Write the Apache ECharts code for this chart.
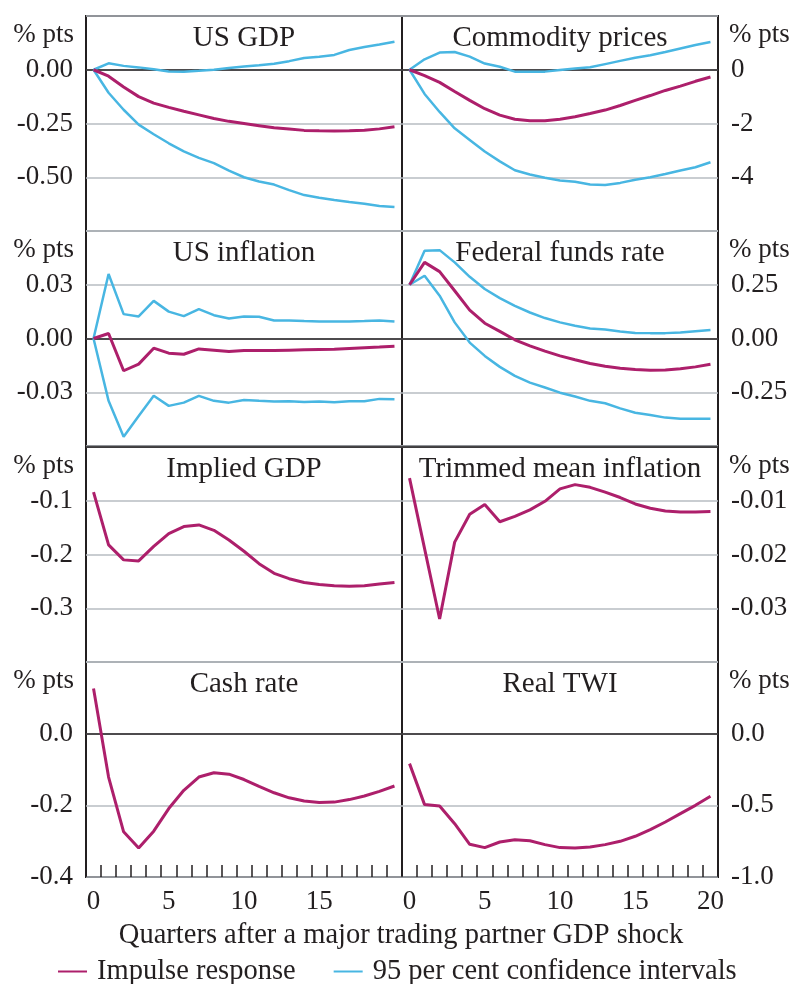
<!DOCTYPE html>
<html>
<head>
<meta charset="utf-8">
<script src="https://cdn.jsdelivr.net/npm/echarts@6/dist/echarts.min.js"></script>
<style>
  html, body { margin: 0; padding: 0; background: #fff; }
</style>
</head>
<body>
<div id="chart" style="width: 796px; height: 984px;"></div>
<script>
  // quarters after the shock
  const quarters = ['0', '1', '2', '3', '4', '5', '6', '7', '8', '9', '10',
    '11', '12', '13', '14', '15', '16', '17', '18', '19', '20']

  // US GDP
  const usGdpMid = [0, -0.03, -0.08, -0.125, -0.155, -0.175, -0.193, -0.21, -0.227, -0.24, -0.25, -0.26, -0.27, -0.276, -0.282, -0.284, -0.285, -0.284, -0.281, -0.275, -0.265]
  const usGdpHi = [0, 0.03, 0.018, 0.011, 0.002, -0.008, -0.009, -0.005, 0, 0.008, 0.015, 0.021, 0.028, 0.04, 0.055, 0.061, 0.069, 0.092, 0.106, 0.117, 0.13]
  const usGdpLo = [0, -0.107, -0.186, -0.255, -0.3, -0.342, -0.38, -0.41, -0.434, -0.469, -0.5, -0.52, -0.534, -0.56, -0.583, -0.595, -0.606, -0.615, -0.623, -0.634, -0.638]

  // Commodity prices
  const commMid = [0, -0.22, -0.47, -0.81, -1.14, -1.45, -1.69, -1.84, -1.9, -1.9, -1.84, -1.75, -1.63, -1.5, -1.33, -1.14, -0.96, -0.77, -0.61, -0.43, -0.27]
  const commHi = [0, 0.39, 0.64, 0.66, 0.49, 0.23, 0.11, -0.07, -0.07, -0.07, -0.01, 0.05, 0.09, 0.21, 0.33, 0.45, 0.54, 0.66, 0.79, 0.92, 1.03]
  const commLo = [0, -0.9, -1.57, -2.18, -2.61, -3.04, -3.41, -3.74, -3.9, -4.02, -4.12, -4.17, -4.27, -4.29, -4.21, -4.09, -4.0, -3.88, -3.75, -3.63, -3.44]

  // US inflation
  const usInfMid = [0, 0.0028, -0.018, -0.0143, -0.0054, -0.0082, -0.0088, -0.0058, -0.0065, -0.0073, -0.0067, -0.0067, -0.0067, -0.0065, -0.0063, -0.0061, -0.006, -0.0056, -0.0052, -0.0048, -0.0043]
  const usInfHi = [0, 0.036, 0.0136, 0.0123, 0.021, 0.015, 0.0125, 0.0164, 0.013, 0.0112, 0.0123, 0.0121, 0.01, 0.01, 0.0097, 0.0095, 0.0095, 0.0095, 0.0097, 0.01, 0.0095]
  const usInfLo = [0, -0.0348, -0.0548, -0.0432, -0.032, -0.0376, -0.0358, -0.032, -0.0348, -0.0358, -0.0343, -0.0348, -0.0352, -0.035, -0.0354, -0.0352, -0.0356, -0.035, -0.035, -0.0337, -0.0339]

  // Federal funds rate
  const fedMid = [0.25, 0.354, 0.311, 0.222, 0.132, 0.071, 0.033, -0.006, -0.034, -0.059, -0.081, -0.099, -0.116, -0.129, -0.138, -0.144, -0.148, -0.146, -0.141, -0.132, -0.12]
  const fedHi = [0.25, 0.408, 0.411, 0.354, 0.287, 0.23, 0.188, 0.152, 0.121, 0.095, 0.075, 0.059, 0.047, 0.042, 0.033, 0.026, 0.025, 0.025, 0.028, 0.034, 0.04]
  const fedLo = [0.25, 0.292, 0.199, 0.075, -0.019, -0.081, -0.132, -0.174, -0.205, -0.228, -0.252, -0.27, -0.29, -0.301, -0.325, -0.345, -0.356, -0.368, -0.373, -0.373, -0.373]

  // domestic responses (impulse only)
  const impliedGdp = [-0.084, -0.182, -0.21, -0.212, -0.185, -0.161, -0.148, -0.145, -0.155, -0.173, -0.194, -0.217, -0.235, -0.245, -0.252, -0.256, -0.258, -0.259, -0.258, -0.255, -0.252]
  const trimmedMean = [-0.0058, -0.0189, -0.032, -0.0177, -0.0125, -0.0107, -0.0139, -0.0129, -0.0117, -0.0101, -0.0078, -0.007, -0.0075, -0.0084, -0.0094, -0.0106, -0.0114, -0.0119, -0.0121, -0.0121, -0.012]
  const cashRate = [0.126, -0.121, -0.274, -0.319, -0.272, -0.209, -0.158, -0.121, -0.109, -0.113, -0.128, -0.147, -0.165, -0.179, -0.188, -0.192, -0.191, -0.184, -0.174, -0.161, -0.146]
  const realTwi = [-0.209, -0.495, -0.505, -0.628, -0.772, -0.795, -0.756, -0.74, -0.747, -0.774, -0.795, -0.798, -0.791, -0.774, -0.751, -0.716, -0.67, -0.616, -0.558, -0.5, -0.437]

  const FONT = '"Liberation Serif", "Times New Roman", serif'
  const INK = '#231f20'
  const MAGENTA = '#ad1f6b'
  const CYAN = '#48b6e2'
  const GRID_LINE = '#b7bcc2'
  const IMPULSE = 'Impulse response'
  const BANDS = '95 per cent confidence intervals'

  const colLeft = [86, 402]
  const rowTop = [16, 231, 447, 662]
  const panelW = 316
  const panelH = 215

  const panels = [
    { title: 'US GDP', col: 0, row: 0, min: -0.75, max: 0.25, step: 0.25, dec: 2, mid: usGdpMid, hi: usGdpHi, lo: usGdpLo },
    { title: 'Commodity prices', col: 1, row: 0, min: -6, max: 2, step: 2, dec: 0, mid: commMid, hi: commHi, lo: commLo },
    { title: 'US inflation', col: 0, row: 1, min: -0.06, max: 0.06, step: 0.03, dec: 2, mid: usInfMid, hi: usInfHi, lo: usInfLo },
    { title: 'Federal funds rate', col: 1, row: 1, min: -0.5, max: 0.5, step: 0.25, dec: 2, mid: fedMid, hi: fedHi, lo: fedLo },
    { title: 'Implied GDP', col: 0, row: 2, min: -0.4, max: 0, step: 0.1, dec: 1, mid: impliedGdp },
    { title: 'Trimmed mean inflation', col: 1, row: 2, min: -0.04, max: 0, step: 0.01, dec: 2, mid: trimmedMean },
    { title: 'Cash rate', col: 0, row: 3, min: -0.4, max: 0.2, step: 0.2, dec: 1, mid: cashRate },
    { title: 'Real TWI', col: 1, row: 3, min: -1.0, max: 0.5, step: 0.5, dec: 1, mid: realTwi },
  ]

  const grid = []
  const xAxis = []
  const yAxis = []
  const series = []
  const title = []

  panels.forEach((p, i) => {
    const bottomRow = p.row === 3
    grid.push({
      left: colLeft[p.col], top: rowTop[p.row], width: panelW, height: panelH,
      show: true, borderColor: INK, borderWidth: 2, backgroundColor: 'transparent',
    })
    xAxis.push({
      type: 'category', gridIndex: i, data: quarters, boundaryGap: true,
      axisLine: { show: false, onZero: false },
      axisTick: { show: bottomRow, inside: true, length: 12, interval: 0, lineStyle: { color: INK, width: 1.5 } },
      axisLabel: {
        show: bottomRow,
        interval: (idx) => idx % 5 === 0 && (p.col === 1 || idx < 20),
        fontFamily: FONT, fontSize: 27, color: INK, margin: 11,
      },
      splitLine: { show: false },
    })
    yAxis.push({
      type: 'value', gridIndex: i, position: p.col ? 'right' : 'left',
      min: p.min, max: p.max, interval: p.step,
      axisLine: { show: false },
      axisTick: { show: false },
      splitLine: { show: true, lineStyle: { color: GRID_LINE, width: 1.5 } },
      axisLabel: {
        showMaxLabel: false, showMinLabel: bottomRow,
        formatter: (v) => v.toFixed(p.dec),
        fontFamily: FONT, fontSize: 27, color: INK, margin: 13,
      },
    })
    // panel title
    title.push({
      text: p.title, left: colLeft[p.col] + panelW / 2, top: rowTop[p.row] + 8, textAlign: 'center', padding: 0,
      textStyle: { fontFamily: FONT, fontSize: 29, fontWeight: 'normal', color: INK },
    })
    // unit label
    title.push({
      text: '% pts', left: p.col ? 729 : 74, top: rowTop[p.row] + 5, textAlign: p.col ? 'left' : 'right', padding: 0,
      textStyle: { fontFamily: FONT, fontSize: 27, fontWeight: 'normal', color: INK },
    })
    if (p.hi) {
      [p.hi, p.lo].forEach((d) => {
        series.push({
          name: BANDS, type: 'line', xAxisIndex: i, yAxisIndex: i, data: d,
          showSymbol: false, silent: true, lineStyle: { color: CYAN, width: 2.5 }, itemStyle: { color: CYAN },
        })
      })
    }
    series.push({
      name: IMPULSE, type: 'line', xAxisIndex: i, yAxisIndex: i, data: p.mid,
      showSymbol: false, silent: true, lineStyle: { color: MAGENTA, width: 3 }, itemStyle: { color: MAGENTA },
      markLine: {
        silent: true, symbol: 'none', label: { show: false }, z: 1,
        lineStyle: { color: INK, width: 1.5, type: 'solid' },
        data: [{ yAxis: 0 }],
      },
    })
  })

  title.push({
    text: 'Quarters after a major trading partner GDP shock', left: 401, top: 921, textAlign: 'center', padding: 0,
    textStyle: { fontFamily: FONT, fontSize: 28.5, fontWeight: 'normal', color: INK },
  })

  const chart = echarts.init(document.getElementById('chart'), null, { renderer: 'canvas' })
  chart.setOption({
    animation: false,
    backgroundColor: '#fff',
    title: title,
    legend: {
      data: [IMPULSE, BANDS], left: 58, top: 957, padding: 0,
      icon: 'rect', itemWidth: 29, itemHeight: 2, itemGap: 38,
      textStyle: { fontFamily: FONT, fontSize: 28.5, color: INK, padding: [0, 0, 0, 5] },
    },
    grid: grid,
    xAxis: xAxis,
    yAxis: yAxis,
    series: series,
  })
</script>
</body>
</html>
